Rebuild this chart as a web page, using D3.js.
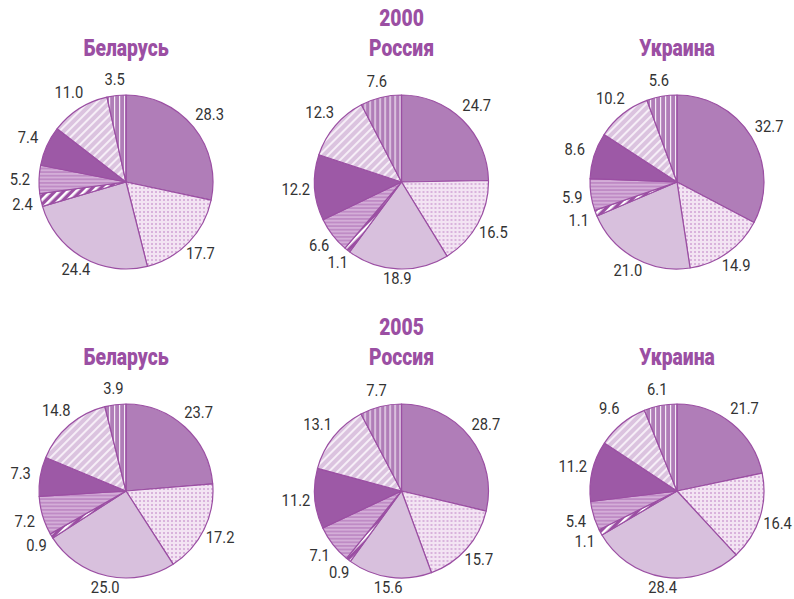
<!DOCTYPE html>
<html>
<head>
<meta charset="utf-8">
<script src="https://cdn.jsdelivr.net/npm/d3@7"></script>
<style>
  body { margin: 0; background: #fff; }
  svg { display: block; }
</style>
</head>
<body>
<div id="chart"></div>
<script>
const years = ["2000", "2005"];
const countries = ["Беларусь", "Россия", "Украина"];

// 8 slices per pie, clockwise from 12 o'clock
const values2000 = [
  [28.3, 17.7, 24.4, 2.4, 5.2, 7.4, 11.0, 3.5],
  [24.7, 16.5, 18.9, 1.1, 6.6, 12.2, 12.3, 7.6],
  [32.7, 14.9, 21.0, 1.1, 5.9, 8.6, 10.2, 5.6]
];
const values2005 = [
  [23.7, 17.2, 25.0, 0.9, 7.2, 7.3, 14.8, 3.9],
  [28.7, 15.7, 15.6, 0.9, 7.1, 11.2, 13.1, 7.7],
  [21.7, 16.4, 28.4, 1.1, 5.4, 11.2, 9.6, 6.1]
];

const width = 794, height = 599;
const radius = 87;
const purple = "#9b4fa3";
const font = "'Liberation Sans Narrow', 'Roboto', sans-serif";

const svg = d3.select("#chart").append("svg")
  .attr("width", width)
  .attr("height", height);

const defs = svg.append("defs");

// dotted fill
const pDots = defs.append("pattern").attr("id", "p-dots")
  .attr("patternUnits", "userSpaceOnUse").attr("width", 4).attr("height", 4);
pDots.append("rect").attr("width", 4).attr("height", 4).attr("fill", "#f3e4f3");
pDots.append("rect").attr("x", 1).attr("y", 1).attr("width", 2).attr("height", 2).attr("fill", "#d9b3dc");

// dark diagonal stripes
const pDiagDark = defs.append("pattern").attr("id", "p-diag-dark")
  .attr("patternUnits", "userSpaceOnUse").attr("width", 6).attr("height", 6)
  .attr("patternTransform", "rotate(45)");
pDiagDark.append("rect").attr("width", 6).attr("height", 6).attr("fill", "#9b4fa3");
pDiagDark.append("rect").attr("width", 2.6).attr("height", 6).attr("fill", "#ffffff");

// horizontal stripes
const pHoriz = defs.append("pattern").attr("id", "p-horiz")
  .attr("patternUnits", "userSpaceOnUse").attr("width", 6).attr("height", 3.6);
pHoriz.append("rect").attr("width", 6).attr("height", 3.6).attr("fill", "#bf8bc5");
pHoriz.append("rect").attr("y", 2).attr("width", 6).attr("height", 1.4).attr("fill", "#dab8de");

// light diagonal stripes
const pDiagLight = defs.append("pattern").attr("id", "p-diag-light")
  .attr("patternUnits", "userSpaceOnUse").attr("width", 6).attr("height", 6)
  .attr("patternTransform", "rotate(45)");
pDiagLight.append("rect").attr("width", 6).attr("height", 6).attr("fill", "#dbc3df");
pDiagLight.append("rect").attr("width", 2).attr("height", 6).attr("fill", "#f6eef7");

// vertical stripes
const pVert = defs.append("pattern").attr("id", "p-vert")
  .attr("patternUnits", "userSpaceOnUse").attr("width", 5).attr("height", 5);
pVert.append("rect").attr("width", 5).attr("height", 5).attr("fill", "#b07db8");
pVert.append("rect").attr("x", 3).attr("width", 1.2).attr("height", 5).attr("fill", "#f4ebf5");

const fills = [
  "#b07db8",
  "url(#p-dots)",
  "#d8c0dd",
  "url(#p-diag-dark)",
  "url(#p-horiz)",
  "#9d59a6",
  "url(#p-diag-light)",
  "url(#p-vert)"
];

const colX = d3.scalePoint().domain(countries).range([126, 677]).padding(0);
const rowY = d3.scalePoint().domain(years).range([182, 491]);

const pie = d3.pie().sort(null).value(d => d);
const arc = d3.arc().innerRadius(0).outerRadius(radius);

function title(x, y, txt) {
  svg.append("text")
    .attr("transform", `translate(${x},${y}) scale(0.84,1)`)
    .attr("text-anchor", "middle")
    .attr("font-family", font)
    .attr("font-weight", "900")
    .attr("font-size", "23px")
    .attr("fill", purple)
    .text(txt);
}

[values2000, values2005].forEach((rows, yi) => {
  const year = years[yi];
  const cy = rowY(year);

  title(colX("Россия"), cy - 156, year);

  rows.forEach((vals, ci) => {
    const country = countries[ci];
    const cx = colX(country);

    title(cx, cy - 126, country);

    const g = svg.append("g").attr("transform", `translate(${cx},${cy})`);
    const arcs = pie(vals);

    g.selectAll("path")
      .data(arcs)
      .enter().append("path")
      .attr("d", arc)
      .attr("fill", (d, i) => fills[i])
      .attr("stroke", purple)
      .attr("stroke-width", 1.2)
      .attr("stroke-linejoin", "round");

    g.selectAll("text")
      .data(arcs)
      .enter().append("text")
      .attr("transform", d => {
        const a = (d.startAngle + d.endAngle) / 2;
        const r = radius + 9 + 10 * Math.abs(Math.sin(a)) + 6 * Math.max(0, Math.cos(a));
        return `translate(${Math.sin(a) * r},${-Math.cos(a) * r}) scale(0.92,1)`;
      })
      .attr("text-anchor", "middle")
      .attr("dy", "0.36em")
      .attr("font-family", font)
      .attr("font-size", "16px")
      .attr("fill", "#333")
      .text(d => d.data.toFixed(1));
  });
});
</script>
</body>
</html>
